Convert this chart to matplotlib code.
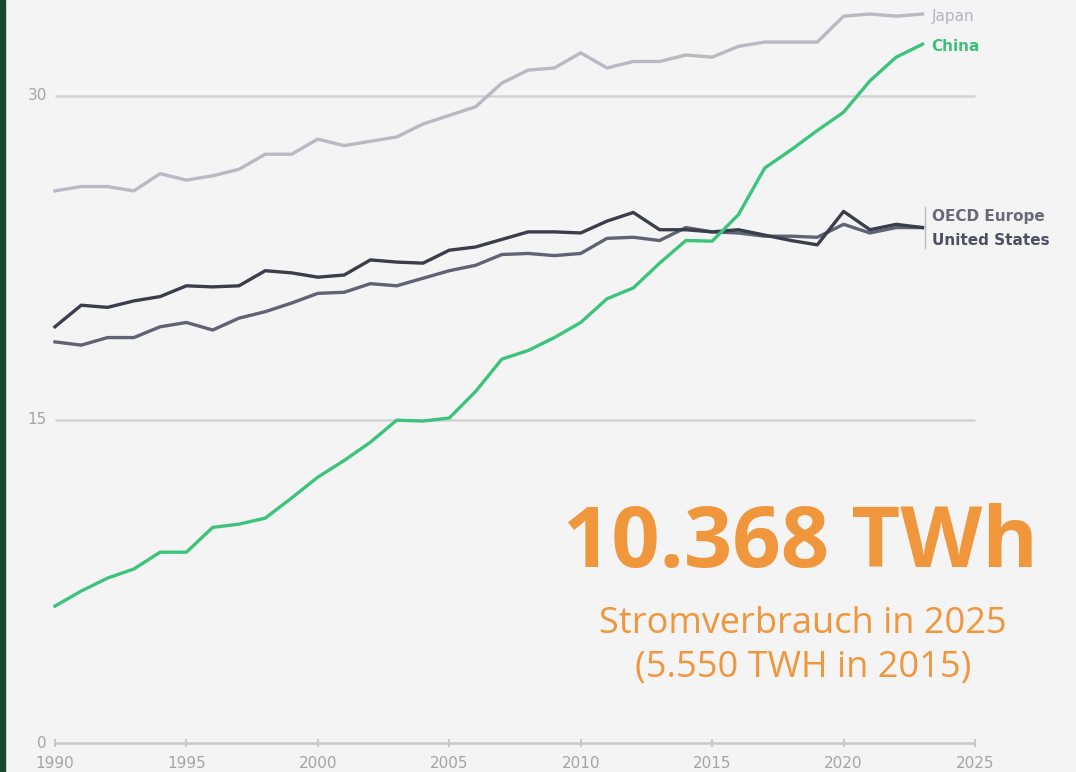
import matplotlib.pyplot as plt

years = list(range(1990, 2024))

japan = [25.6, 25.8, 25.8, 25.6, 26.4, 26.1, 26.3, 26.6, 27.3, 27.3,
         28.0, 27.7, 27.9, 28.1, 28.7, 29.1, 29.5, 30.6, 31.2, 31.3,
         32.0, 31.3, 31.6, 31.6, 31.9, 31.8, 32.3, 32.5, 32.5, 32.5,
         33.7, 33.8, 33.7, 33.8]
china = [6.35, 7.05, 7.65, 8.07, 8.85, 8.85, 10.0, 10.15, 10.43, 11.36,
         12.33, 13.1, 13.95, 14.97, 14.93, 15.07, 16.3, 17.8, 18.2, 18.8,
         19.5, 20.6, 21.1, 22.25, 23.3, 23.27, 24.5, 26.66, 27.5, 28.4,
         29.25, 30.7, 31.8, 32.4]
united_states = [19.3, 20.3, 20.2, 20.5, 20.7, 21.2, 21.15, 21.2, 21.9, 21.8,
                 21.6, 21.7, 22.4, 22.3, 22.25, 22.85, 23.0, 23.35, 23.7, 23.7,
                 23.65, 24.2, 24.6, 23.8, 23.8, 23.7, 23.8, 23.55, 23.3, 23.1,
                 24.65, 23.8, 24.05, 23.9]
oecd_europe = [18.6, 18.45, 18.8, 18.8, 19.3, 19.5, 19.15, 19.7, 20.0, 20.4,
               20.85, 20.9, 21.3, 21.2, 21.55, 21.9, 22.15, 22.65, 22.7, 22.6,
               22.7, 23.4, 23.45, 23.3, 23.9, 23.7, 23.65, 23.5, 23.5, 23.45,
               24.05, 23.65, 23.9, 23.9]

y_ticks = [0, 15, 30]
x_ticks = [1990, 1995, 2000, 2005, 2010, 2015, 2020, 2025]

headline = "10.368 TWh"
subline = "Stromverbrauch in 2025\n(5.550 TWH in 2015)"

BG = "#f4f4f4"
ORANGE = "#f0963c"
TICK_COLOR = "#a4a4a8"
LABEL_FONT = "DejaVu Sans"

fig = plt.figure(figsize=(10.76, 7.72), dpi=100, facecolor=BG)
ax = fig.add_axes([0, 0, 1, 1])
ax.set_facecolor(BG)
ax.set_xlim(1987.91, 2028.84)
ax.set_ylim(-1.34, 34.45)
ax.axis("off")

# left dark green border strip
fig.patches.append(plt.Rectangle((0, 0), 0.0048, 1, transform=fig.transFigure,
                                 color="#1b4a2a", zorder=10))

# gridlines and baseline
for v in y_ticks:
    ax.hlines(v, x_ticks[0], x_ticks[-1], color="#d3d3d6" if v else "#c8c8cc",
              lw=1.8, zorder=1)
    ax.text(x_ticks[0] - 0.3, v, str(v), ha="right", va="center",
            fontsize=11, color=TICK_COLOR, family=LABEL_FONT)
for yr in x_ticks:
    ax.vlines(yr, -0.2, 0.2, color="#c8c8cc", lw=1.5, zorder=1)
    ax.text(yr, -0.95, str(yr), ha="center", va="center",
            fontsize=11, color=TICK_COLOR, family=LABEL_FONT)

lw = 2.4
ax.plot(years, japan, color="#b8b9c3", lw=lw, zorder=3)
ax.plot(years, oecd_europe, color="#5f6374", lw=lw, zorder=4)
ax.plot(years, united_states, color="#3a3e4a", lw=lw, zorder=4)
ax.plot(years, china, color="#3cc47c", lw=lw, zorder=5)

# series labels
lx = years[-1] + 0.35
ax.text(lx, japan[-1] - 0.1, "Japan", ha="left", va="center", fontsize=11,
        color="#b3b4be", family=LABEL_FONT)
ax.text(lx, china[-1] - 0.1, "China", ha="left", va="center", fontsize=11,
        color="#3cc07a", family=LABEL_FONT, fontweight="bold")
ax.text(lx, united_states[-1] + 0.5, "OECD Europe", ha="left", va="center",
        fontsize=11, color="#666a7a", family=LABEL_FONT, fontweight="bold")
ax.text(lx, united_states[-1] - 0.6, "United States", ha="left", va="center",
        fontsize=11, color="#4d5060", family=LABEL_FONT, fontweight="bold")
bx = years[-1] + 0.1
ax.plot([bx, bx], [united_states[-1] + 0.95, united_states[-1] - 0.95],
        color="#b8b9c3", lw=1.0, zorder=2)

# headline text
ax.text(2018.35, 9.2, headline, ha="center", va="center", fontsize=61,
        color=ORANGE, family="Open Sans", fontweight="bold")
ax.text(2018.45, 4.5, subline, ha="center", va="center", fontsize=26,
        color=ORANGE, family="Open Sans", linespacing=1.27)

fig.savefig("out.png", dpi=100, facecolor=BG)
